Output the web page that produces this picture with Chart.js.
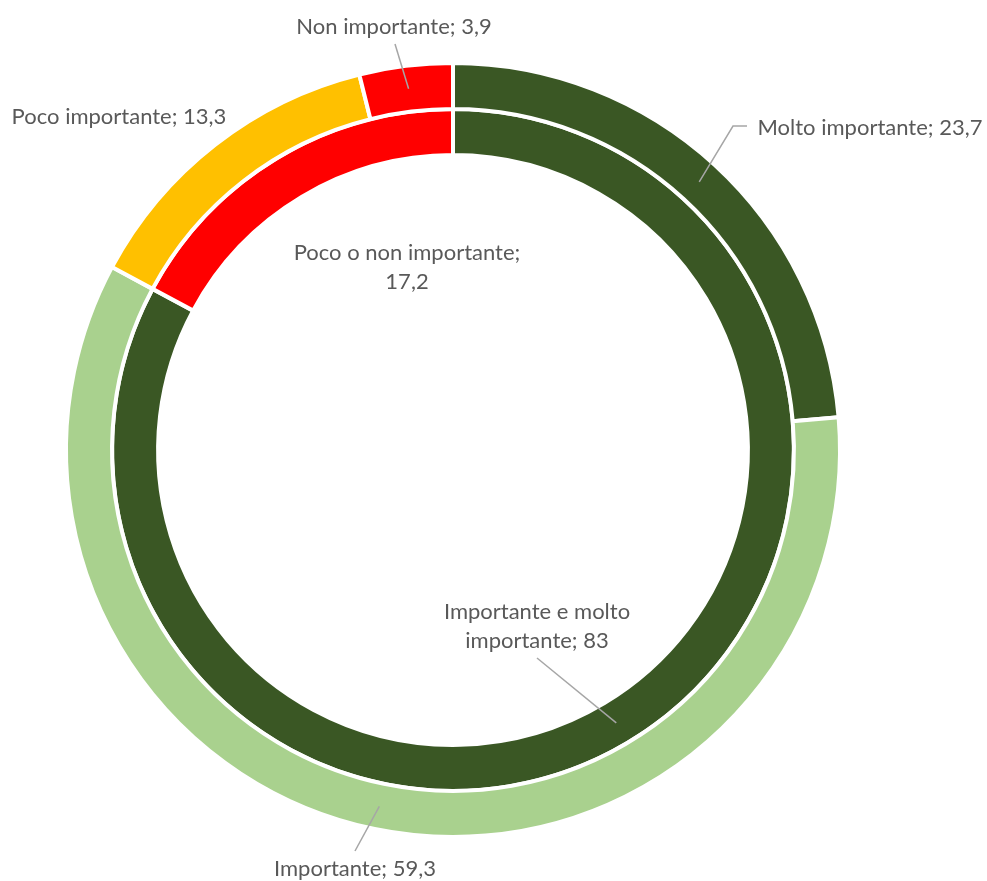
<!DOCTYPE html>
<html lang="it">
<head>
<meta charset="utf-8">
<title>Importanza</title>
<script src="https://cdn.jsdelivr.net/npm/chart.js@4.4.1/dist/chart.umd.min.js"></script>
<style>
  html, body { margin: 0; padding: 0; background: #ffffff; }
  #wrap { width: 987px; height: 881px; position: relative; }
</style>
</head>
<body>
<div id="wrap"><canvas id="chart" width="987" height="881"></canvas></div>
<script>
// outer ring: single answers
const outerLabels = ['Molto importante', 'Importante', 'Poco importante', 'Non importante'];
const outerValues = [23.7, 59.3, 13.3, 3.9];
const outerColors = ['#3A5724', '#A9D18E', '#FFC000', '#FF0000'];

// inner ring: grouped answers
const innerLabels = ['Importante e molto importante', 'Poco o non importante'];
const innerValues = [83, 17.2];
const innerColors = ['#3A5724', '#FF0000'];

// where each data label sits; leader goes from "from" (elbow optional) to the arc middle
const labelSpots = [
  { ds: 0, i: 0, x: 870, y: 128, align: 'center', from: [747, 126], elbow: [733, 126] },
  { ds: 0, i: 1, x: 355, y: 869, align: 'center', from: [355, 851] },
  { ds: 0, i: 2, x: 119, y: 117, align: 'center' },
  { ds: 0, i: 3, x: 394, y: 27, align: 'center', from: [395, 44] },
  { ds: 1, i: 0, x: 537, y: 612, align: 'center', wrap: 215, from: [537, 658] },
  { ds: 1, i: 1, x: 407, y: 253, align: 'center', wrap: 260 }
];

const FONT = '22px Lato, "Open Sans", sans-serif';

function fmt(v) {
  return String(v).replace('.', ',');
}

function wrapText(ctx, text, maxW) {
  if (!maxW) return [text];
  const words = text.split(' ');
  const lines = [];
  let cur = '';
  words.forEach(w => {
    const test = cur ? cur + ' ' + w : w;
    if (cur && ctx.measureText(test).width > maxW) {
      lines.push(cur);
      cur = w;
    } else {
      cur = test;
    }
  });
  if (cur) lines.push(cur);
  return lines;
}

const ringLabels = {
  id: 'ringLabels',
  afterDatasetsDraw(chart) {
    const ctx = chart.ctx;
    ctx.save();
    ctx.font = FONT;
    labelSpots.forEach(s => {
      const arc = chart.getDatasetMeta(s.ds).data[s.i];
      const names = s.ds === 0 ? outerLabels : innerLabels;
      const vals = s.ds === 0 ? outerValues : innerValues;
      const text = names[s.i] + '; ' + fmt(vals[s.i]);

      if (s.from) {
        const p = arc.tooltipPosition();
        ctx.strokeStyle = '#A6A6A6';
        ctx.lineWidth = 1.5;
        ctx.beginPath();
        ctx.moveTo(s.from[0], s.from[1]);
        if (s.elbow) ctx.lineTo(s.elbow[0], s.elbow[1]);
        ctx.lineTo(p.x, p.y);
        ctx.stroke();
      }

      ctx.fillStyle = '#595959';
      ctx.textAlign = s.align;
      ctx.textBaseline = 'middle';
      const lines = wrapText(ctx, text, s.wrap);
      lines.forEach((ln, k) => {
        ctx.fillText(ln, s.x, s.y + k * 29);
      });
    });
    ctx.restore();
  }
};

new Chart(document.getElementById('chart').getContext('2d'), {
  type: 'doughnut',
  data: {
    labels: outerLabels,
    datasets: [
      {
        label: 'Risposte',
        data: outerValues,
        backgroundColor: outerColors,
        borderColor: '#ffffff',
        borderWidth: 4
      },
      {
        label: 'Risposte aggregate',
        data: innerValues,
        backgroundColor: innerColors,
        borderColor: '#ffffff',
        borderWidth: 4
      }
    ]
  },
  options: {
    responsive: false,
    animation: false,
    cutout: '76.2%',
    layout: {
      padding: { top: 61, bottom: 42, left: 64, right: 145 }
    },
    plugins: {
      legend: { display: false },
      tooltip: { enabled: false }
    }
  },
  plugins: [ringLabels]
});
</script>
</body>
</html>
